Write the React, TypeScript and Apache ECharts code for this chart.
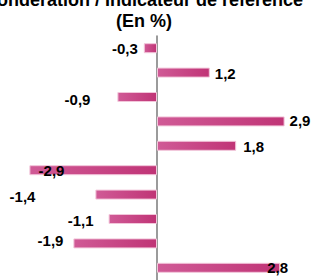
import React, { useEffect, useRef } from "react";
import * as echarts from "echarts";

const categories = ["C1", "C2", "C3", "C4", "C5", "C6", "C7", "C8", "C9", "C10"];
const values = [-0.3, 1.2, -0.9, 2.9, 1.8, -2.9, -1.4, -1.1, -1.9, 2.8];
const labelTexts = ["-0,3", "1,2", "-0,9", "2,9", "1,8", "-2,9", "-1,4", "-1,1", "-1,9", "2,8"];
const labelShifts: [number, number][] = [
  [-1, 0], [0, 1], [-22, 2], [0, -1], [2, 1], [40, 0], [-55, 1.5], [-10, 1], [-5, -2.5], [-18, 0],
];

export default function App() {
  const ref = useRef<HTMLDivElement>(null);
  useEffect(() => {
    if (!ref.current) return;
    const chart = echarts.init(ref.current, null, { renderer: "svg" });
    const grad = new echarts.graphic.LinearGradient(0, 0, 1, 0, [
      { offset: 0, color: "#d05a96" },
      { offset: 1, color: "#c03476" },
    ]);
    chart.setOption({
      animation: false,
      graphic: [
        {
          type: "text",
          x: 144,
          y: -0.5,
          style: {
            text: "Pondération / Indicateur de référence",
            font: "bold 18px Arial, 'Liberation Sans'",
            fill: "#000",
            textAlign: "center",
            textVerticalAlign: "middle",
          },
        },
        {
          type: "text",
          x: 144,
          y: 21,
          style: {
            text: "(En %)",
            font: "bold 18px Arial, 'Liberation Sans'",
            fill: "#000",
            textAlign: "center",
            textVerticalAlign: "middle",
          },
        },
      ],
      grid: { left: 3, width: 308, top: 36, height: 248 },
      xAxis: {
        type: "value",
        min: -3.5,
        max: 3.5,
        show: false,
        splitLine: { show: false },
      },
      yAxis: {
        type: "category",
        data: categories,
        inverse: true,
        axisLine: { show: true, onZero: true, lineStyle: { color: "#7a7a7a", width: 1.5 } },
        axisTick: { show: false },
        axisLabel: { show: false },
        splitLine: { show: false },
      },
      series: [
        {
          type: "bar",
          barWidth: 10,
          data: values.map((v, i) => ({
            value: v,
            label: {
              show: true,
              position: v < 0 ? "left" : "right",
              distance: 5,
              offset: labelShifts[i],
              formatter: labelTexts[i],
              fontFamily: "Arial, 'Liberation Sans'",
              fontWeight: "bold",
              fontSize: 15,
              color: "#000",
            },
          })),
          itemStyle: { color: grad, borderColor: "#f2c6da", borderWidth: 1 },
        },
      ],
    });
    return () => chart.dispose();
  }, []);
  return (
    <div
      ref={ref}
      style={{ position: "absolute", left: 0, top: 0, width: 314, height: 280 }}
    />
  );
}
